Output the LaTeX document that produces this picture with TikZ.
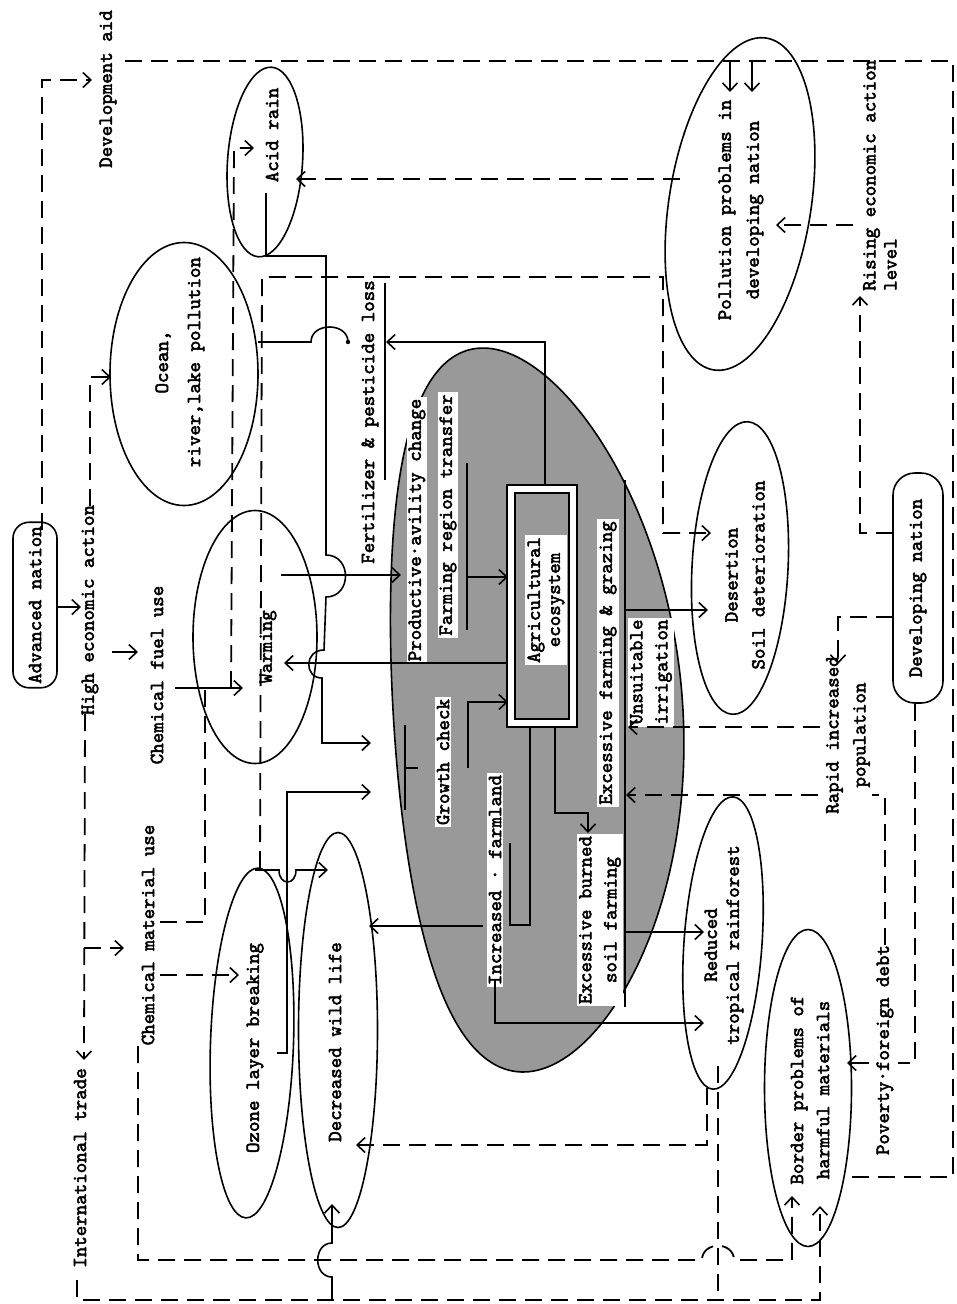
\documentclass[tikz,border=0pt]{standalone}
\usepackage{fontspec}
\newfontfamily\tyfont[FakeBold=2.5]{lmmono10-regular.otf}
\usetikzlibrary{arrows.meta,shapes.geometric}
\definecolor{shade}{gray}{0.6}
\begin{document}
\begin{tikzpicture}[x=1pt,y=-1pt,
  ln/.style={line width=1.6pt},
  dl/.style={line width=1.8pt, dash pattern=on 17pt off 9pt},
  arr/.style={-{Straight Barb[length=8pt,width=15pt,line width=1.6pt]}},
  vt/.style={rotate=90, font=\fontsize{20}{25}\selectfont\tyfont, inner sep=1pt, align=center},
  wt/.style={vt, fill=white, inner sep=2pt},
  ell/.style={draw, ellipse, line width=1.6pt, inner sep=0pt},
  rbox/.style={draw, line width=1.6pt}]
\useasboundingbox (0,0) rectangle (957,1304);
\fill[white] (0,0) rectangle (957,1304);

% ---------- central shaded ellipse ----------
\draw[line width=1.6pt, fill=shade] plot[domain=0:360, samples=120, smooth, variable=\t]
  ({538+145*cos(\t)+20*sin(\t)-35*sin(\t)*sin(\t)}, {710+362*sin(\t)}) -- cycle;

% agricultural ecosystem box
\node[rbox, fill=white, minimum width=70, minimum height=242] (agriO) at (542,606) {};
\node[rbox, fill=shade, minimum width=54, minimum height=226] (agriI) at (542,606) {};
\node[wt, font=\fontsize{20}{20}\selectfont\tyfont] (agri) at (546,600) {Agricultural\\ecosystem};

% central labels
\node[wt] (pac) at (417,530) {Productive·avility change};
\node[wt] (frt) at (448,515) {Farming region transfer};
\node[wt] (gc) at (443,762) {Growth check};
\node[wt] (inc) at (495,880) {Increased · farmland};
\node[wt] (efg) at (608,663) {Excessive farming \& grazing};
\node[wt] (ebs) at (600,920) {Excessive burned\\soil farming};
\node[wt] (ui) at (651,672) {Unsuitable\\irrigation};

% ---------- ellipses ----------
\node[ell, minimum width=75, minimum height=190, rotate=-4] (acid) at (265,162) {};
\node[ell, minimum width=148, minimum height=263] (ocean) at (184,374) {};
\node[ell, minimum width=124, minimum height=253] (warm) at (255,637) {};
\node[ell, minimum width=83, minimum height=350, rotate=-2] (ozone) at (252,1043) {};
\node[ell, minimum width=79, minimum height=395] (dwl) at (338,1030) {};
\node[ell, minimum width=142, minimum height=336, rotate=-9] (pol) at (740,204) {};
\node[ell, minimum width=96, minimum height=293, rotate=-3] (des) at (740,568) {};
\node[ell, minimum width=78, minimum height=293, rotate=-4] (rtr) at (723,943) {};
\node[ell, minimum width=87, minimum height=317] (bp) at (808,1088) {};

\node[vt] (acidT) at (272,135) {Acid rain};
\node[vt, font=\fontsize{20}{32}\selectfont\tyfont] (oceanT) at (180,362) {Ocean,\\river,lake pollution};
\node[vt] (warmT) at (268,647) {Warming};
\node[vt] (ozoneT) at (255,1048) {Ozone layer breaking};
\node[vt] (dwlT) at (335,1042) {Decreased wild life};
\node[vt, font=\fontsize{20}{28}\selectfont\tyfont] (polT) at (741,210) {Pollution problems in\\developing nation};
\node[vt, font=\fontsize{20}{27}\selectfont\tyfont] (desT) at (745,575) {Desertion\\Soil deterioration};
\node[vt, font=\fontsize{20}{22}\selectfont\tyfont] (rtrT) at (724,945) {Reduced\\tropical rainforest};
\node[vt, font=\fontsize{20}{26}\selectfont\tyfont] (bpT) at (810,1090) {Border problems of\\harmful materials};

% ---------- outer labels ----------
\node[vt] (dev) at (108,89) {Development aid};
\node[vt, rbox, rounded corners=16pt, inner sep=4pt, minimum height=44] (adv) at (35,605) {Advanced nation};
\node[vt] (hea) at (90,610) {High economic action};
\node[vt] (cfu) at (157,675) {Chemical fuel use};
\node[vt] (cmu) at (148,935) {Chemical material use};
\node[vt] (itr) at (80,1168) {International trade};
\node[vt] (fpl) at (370,422) {Fertilizer \& pesticide loss};
\node[vt, anchor=north west, align=left, font=\fontsize{20}{21}\selectfont\tyfont] (rising) at (862,292) {Rising economic action\\level};
\node[vt, font=\fontsize{20}{27}\selectfont\tyfont] (rip) at (848,735) {Rapid increased\\population};
\node[vt] (pfd) at (885,1050) {Poverty·foreign debt};
\node[vt, rbox, rounded corners=22pt, minimum width=230, minimum height=50] (dn) at (918,588) {Developing nation};

% ---------- frame connectors ----------
\draw[dl] (125,61) -- (953,61) -- (953,1177) -- (852,1177);
\draw[ln,arr] (730,61) -- (730,92);
\draw[ln,arr] (752,61) -- (752,92);
\draw[dl,arr] (680,179) -- (296,179);
\draw[dl,arr] (42,530) -- (42,80) -- (92,80);
\draw[ln,arr] (57,607) -- (81,607);
\draw[dl,arr] (90,506) -- (90,377) -- (111,377);
\draw[ln,arr] (112,652) -- (138,652);
\draw[dl,arr] (85,714) -- (84,1060);
\draw[dl,arr] (84,948) -- (124,948);
\draw[ln,arr] (175,688) -- (243,688);
\draw[dl,arr] (231,688) -- (234,148) -- (254,148);
\draw[dl] (160,922) -- (205,922) -- (205,690);
\draw[dl,arr] (160,975) -- (239,975);
\draw[dl,arr] (138,1046) -- (138,1260) -- (702,1260) .. controls (702,1241) and (734,1241) .. (734,1260) -- (792,1260) -- (792,1196);
\draw[dl,arr] (77,1280) -- (77,1300) -- (820,1300) -- (820,1206);
\draw[ln,arr] (332,1300) -- (332,1277) .. controls (313,1277) and (313,1243) .. (332,1243) -- (332,1204);
\draw[dl] (718,1066) -- (718,1300);
\draw[dl,arr] (707,1088) -- (707,1145) -- (356,1145);
\draw[dl,arr] (893,533) -- (860,533) -- (860,296);
\draw[dl,arr] (853,225) -- (776,225);
\draw[dl,arr] (893,617) -- (838,617) -- (838,664);
\draw[dl] (915,704) -- (915,1063) -- (898,1063);
\draw[ln,arr] (869,1063) -- (847,1063);
\draw[dl] (885,945) -- (885,795) -- (872,795);
\draw[dl,arr] (818,795) -- (626,795);
\draw[dl,arr] (820,727) -- (628,727);
\draw[ln,arr] (625,610) -- (708,610);
\draw[dl,arr] (260,868) -- (262,277) -- (663,277) -- (663,533) -- (711,533);

% ---------- central connectors ----------
\draw[ln,arr] (545,485) -- (545,342) -- (386,342);
\draw[ln] (385,283) -- (385,480);
\draw[ln] (348,342) .. controls (348,322) and (311,322) .. (311,342) -- (258,342);
\fill (348,342) circle (2.2);
\draw[ln,arr] (266,193) -- (266,256) -- (326,256) -- (326,555) .. controls (352,555) and (352,597) .. (326,597) -- (324,650) .. controls (304,650) and (304,678) .. (322,678) -- (322,743) -- (371,743);
\draw[ln,arr] (281,575) -- (401,575);
\draw[ln,arr] (507,663) -- (284,663);
\draw[ln,arr] (277,1053) -- (287,1053) -- (287,792) -- (371,792);
\draw[ln,arr] (255,870) -- (279,870) .. controls (279,886) and (296,886) .. (296,870) -- (328,870);
\draw[ln] (405,725) -- (405,810) (405,768) -- (418,768);
\draw[ln,arr] (468,768) -- (468,702) -- (508,702);
\draw[ln] (467,463) -- (467,630);
\draw[ln,arr] (467,577) -- (508,577);
\draw[ln] (530,727) -- (530,925) -- (510,925) -- (510,843);
\draw[ln,arr] (555,727) -- (555,813) -- (588,813) -- (588,833);
\draw[ln,arr] (483,926) -- (369,926);
\draw[ln,arr] (495,980) -- (495,1023) -- (704,1023);
\draw[ln] (625,480) -- (625,1007);
\draw[ln,arr] (625,932) -- (704,932);
\end{tikzpicture}
\end{document}
